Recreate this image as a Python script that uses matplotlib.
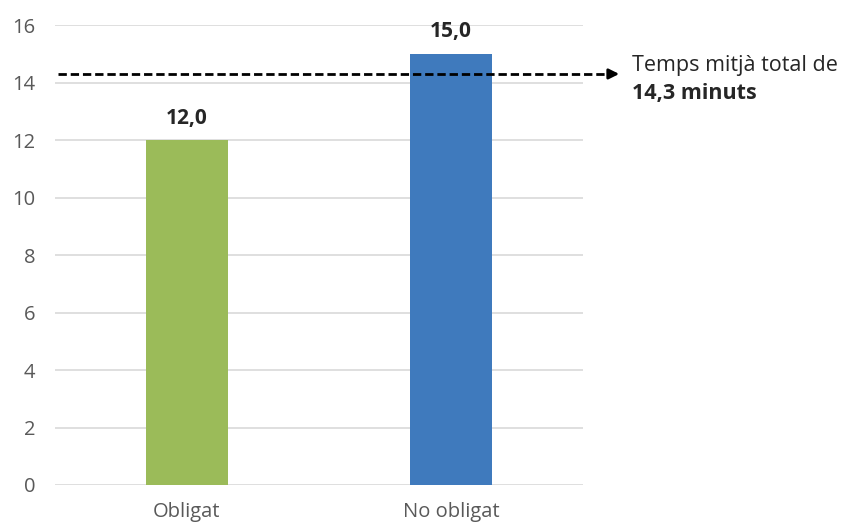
import matplotlib.pyplot as plt
import matplotlib.transforms as mtransforms

plt.rcParams["font.family"] = ["Open Sans", "DejaVu Sans"]

categories = ["Obligat", "No obligat"]
minutes = [12.0, 15.0]
bar_colors = ["#9BBB59", "#3F7ABD"]
mean_total = 14.3
y_ticks = [0, 2, 4, 6, 8, 10, 12, 14, 16]

fig = plt.figure(figsize=(8.46, 5.25), dpi=100)
ax = fig.add_axes([0.065, 0.0762, 0.624, 0.876])

x = range(len(categories))
ax.bar(x, minutes, width=0.31, color=bar_colors, zorder=3)
for xi, v in zip(x, minutes):
    ax.text(xi, v + 0.4, f"{v:.1f}".replace(".", ","), ha="center", va="bottom",
            fontsize=15, fontweight="bold", color="#262626")

ax.set_xlim(-0.5, 1.5)
ax.set_ylim(0, 16)
ax.set_yticks(y_ticks)
ax.set_xticks(list(x))
ax.set_xticklabels(categories)
ax.tick_params(axis="both", length=0, colors="#595959", labelsize=14.5)
ax.tick_params(axis="y", pad=14)
ax.tick_params(axis="x", pad=12.5)
ax.grid(axis="y", color="#d9d9d9", linewidth=1.2, zorder=0)
for side in ["top", "right", "left", "bottom"]:
    ax.spines[side].set_visible(False)

# dashed mean line running past the plot area, ending in an arrow
trans = mtransforms.blended_transform_factory(ax.transAxes, ax.transData)
ax.plot([0.005, 1.055], [mean_total, mean_total], transform=trans, color="black",
        linestyle=(0, (3, 1.4)), linewidth=2, clip_on=False, zorder=4)
ax.annotate("", xy=(1.074, mean_total), xytext=(1.05, mean_total),
            xycoords=trans, textcoords=trans,
            arrowprops=dict(arrowstyle="-|>,head_length=0.6,head_width=0.3",
                            color="black", lw=2), annotation_clip=False)
ax.text(1.093, 14.61, "Temps mitjà total de", transform=trans, ha="left", va="center",
        fontsize=15.5, color="#262626")
ax.text(1.093, 13.63, "14,3 minuts", transform=trans, ha="left", va="center",
        fontsize=15.5, fontweight="bold", color="#262626")

fig.savefig("out.png", dpi=100)
